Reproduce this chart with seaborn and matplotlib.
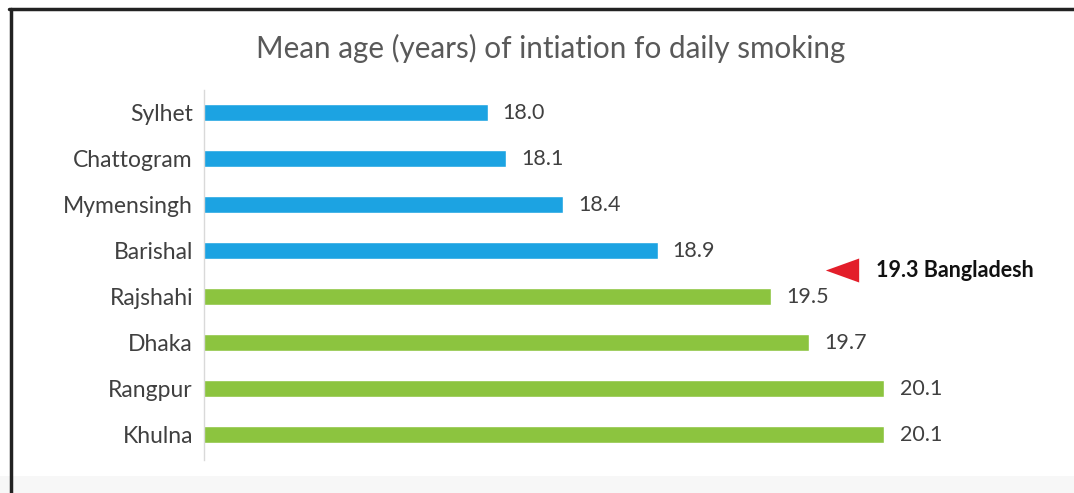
import matplotlib
matplotlib.use("Agg")
import matplotlib.pyplot as plt
import matplotlib.transforms as mtrans
from matplotlib.lines import Line2D
from matplotlib.patches import Rectangle
import seaborn as sns
import pandas as pd

# Division-level mean age of initiation of daily smoking
regions = ["Sylhet", "Chattogram", "Mymensingh", "Barishal",
           "Rajshahi", "Dhaka", "Rangpur", "Khulna"]
mean_age = [18.0, 18.1, 18.4, 18.9, 19.5, 19.7, 20.1, 20.1]
national_mean = 19.3
national_label = "Bangladesh"

# below / above the national mean
groups = ["below" if v < national_mean else "above" for v in mean_age]

df = pd.DataFrame({"region": regions, "age": mean_age, "group": groups})

sns.set_theme(style="white")
plt.rcParams["font.family"] = ["Lato", "DejaVu Sans"]

W, H = 1074, 493
fig = plt.figure(figsize=(W / 100, H / 100), dpi=100)
fig.patch.set_facecolor("white")

# light strip along the bottom of the panel
fig.add_artist(Rectangle((0, 0), 1, 17 / H, transform=fig.transFigure,
                         facecolor="#f7f7f7", edgecolor="none", zorder=0))

ax = fig.add_axes([204 / W, 1 - 460 / H, 796 / W, 370 / H])
ax.set_facecolor("none")

palette = {"below": "#1ca3e2", "above": "#8cc43f"}
sns.barplot(data=df, y="region", x="age", hue="group", palette=palette,
            dodge=False, width=0.37, saturation=1, legend=False, ax=ax,
            order=regions)

ax.set_xlim(16.5, 16.5 + 796 / 189)
ax.set_ylim(7.55, -0.5)

for i, v in enumerate(mean_age):
    ax.text(v + 0.08, i, f"{v:.1f}", va="center", ha="left",
            fontsize=15.5, color="#404040")

for side in ["top", "right", "bottom"]:
    ax.spines[side].set_visible(False)
ax.spines["left"].set_color("#d9d9d9")
ax.spines["left"].set_linewidth(1.0)
ax.set_xticks([])
ax.set_xlabel("")
ax.set_ylabel("")
ax.tick_params(axis="y", length=0, pad=8, labelsize=16.5, labelcolor="#404040")

# national mean marker and label
blend = mtrans.blended_transform_factory(ax.transAxes, ax.transData)
arrow = [(-1, 0), (1, 0.72), (1, -0.72), (-1, 0)]
ax.plot([0.801], [3.42], marker=arrow, markersize=24, color="#e31e2a",
        markeredgewidth=0, transform=blend, clip_on=False)
ax.text(0.844, 3.42, f"{national_mean:.1f} {national_label}", transform=blend,
        va="center", ha="left", fontsize=15.5, fontweight="bold", color="#111111")

fig.text(551 / W, 1 - 48 / H, "Mean age (years) of intiation fo daily smoking",
         ha="center", va="center", fontsize=21.3, color="#595959")

# panel frame (top and left edges)
fig.add_artist(Line2D([9 / W, 1], [1 - 9 / H, 1 - 9 / H], transform=fig.transFigure,
                      color="#222222", linewidth=2.5))
fig.add_artist(Line2D([10.5 / W, 10.5 / W], [0, 1 - 9 / H], transform=fig.transFigure,
                      color="#222222", linewidth=2.5))

fig.savefig("out.png", dpi=100)
